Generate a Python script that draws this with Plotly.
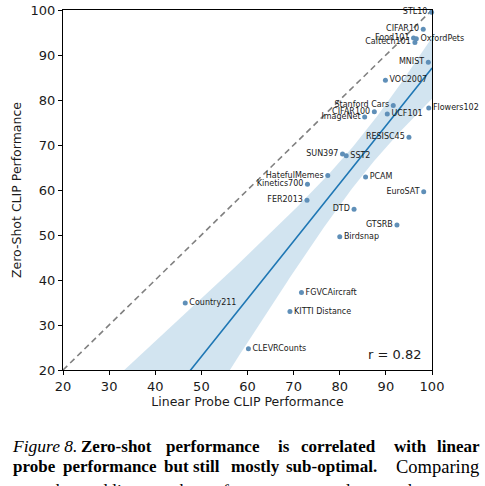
import numpy as np
import plotly.graph_objects as go

datasets = ["STL10", "CIFAR10", "Food101", "OxfordPets", "Caltech101", "MNIST", "VOC2007",
            "Stanford Cars", "CIFAR100", "ImageNet", "UCF101", "Flowers102", "RESISC45",
            "SUN397", "SST2", "HatefulMemes", "Kinetics700", "FER2013", "PCAM", "EuroSAT",
            "DTD", "GTSRB", "Birdsnap", "FGVCAircraft", "KITTI Distance", "Country211", "CLEVRCounts"]
linear_probe = [99.9, 98.1, 96.0, 96.6, 96.3, 99.2, 89.9,
                91.6, 87.5, 85.4, 90.3, 99.3, 95.0,
                80.6, 81.4, 77.4, 73.0, 72.9, 85.6, 98.2,
                83.1, 92.4, 80.0, 71.7, 69.2, 46.5, 60.2]
zero_shot = [99.5, 95.7, 93.8, 93.6, 92.8, 88.4, 84.4,
             78.8, 77.4, 76.2, 76.9, 78.2, 71.7,
             68.0, 67.6, 63.2, 61.3, 57.7, 62.9, 59.6,
             55.7, 52.2, 49.6, 37.2, 33.0, 34.9, 24.7]
label_side = ["left", "left", "left", "right", "left", "left", "right",
              "left", "left", "left", "right", "right", "left",
              "left", "right", "left", "left", "left", "right", "left",
              "left", "left", "right", "right", "right", "right", "right"]
x_ticks = [20, 30, 40, 50, 60, 70, 80, 90, 100]
y_ticks = [20, 30, 40, 50, 60, 70, 80, 90, 100]
r_text = "r = 0.82"

x = np.array(linear_probe)
y = np.array(zero_shot)
n = len(x)
slope, intercept = np.polyfit(x, y, 1)
xs = np.linspace(20, 100, 200)
yhat = slope * xs + intercept
resid = y - (slope * x + intercept)
s = np.sqrt(np.sum(resid ** 2) / (n - 2))
sxx = np.sum((x - x.mean()) ** 2)
tval = 1.95
half = tval * s * np.sqrt(1.0 / n + (xs - x.mean()) ** 2 / sxx)

FONT = "DejaVu Sans"
fig = go.Figure()
fig.add_trace(go.Scatter(x=np.concatenate([xs, xs[::-1]]),
                         y=np.concatenate([yhat + half, (yhat - half)[::-1]]),
                         fill="toself", fillcolor="rgba(31,119,180,0.2)",
                         line=dict(width=0), mode="lines", hoverinfo="skip", showlegend=False))
fig.add_trace(go.Scatter(x=[20, 100], y=[20, 100], mode="lines",
                         line=dict(color="#808080", width=1.6, dash="6px,4px"), showlegend=False))
fig.add_trace(go.Scatter(x=xs, y=yhat, mode="lines",
                         line=dict(color="#1f77b4", width=1.6), showlegend=False))
for side in ["left", "right"]:
    idx = [i for i, sd in enumerate(label_side) if sd == side]
    fig.add_trace(go.Scatter(
        x=[linear_probe[i] for i in idx], y=[zero_shot[i] for i in idx],
        text=[datasets[i] for i in idx], mode="markers+text",
        textposition="middle " + side,
        textfont=dict(family=FONT, size=8, color="#1a1a1a"),
        marker=dict(size=5, color="#5f8fb8"), cliponaxis=False, showlegend=False))

axis_common = dict(range=[20, 100], showgrid=False, zeroline=False, showline=True,
                   linecolor="black", linewidth=1, mirror=True, ticks="outside",
                   ticklen=4, tickcolor="black", automargin=False,
                   tickfont=dict(family=FONT, size=13, color="#1a1a1a"))
fig.update_xaxes(**axis_common, tickvals=x_ticks,
                 title=dict(text="Linear Probe CLIP Performance",
                            font=dict(family=FONT, size=12.5, color="#1a1a1a"), standoff=4))
fig.update_yaxes(**axis_common, tickvals=y_ticks,
                 title=dict(text="Zero-Shot CLIP Performance",
                            font=dict(family=FONT, size=12.5, color="#1a1a1a"), standoff=6))

fig.add_annotation(x=98, y=23.5, xref="x", yref="y", text=r_text, showarrow=False,
                   xanchor="right", yanchor="middle",
                   font=dict(family=FONT, size=13, color="#1a1a1a"))

# caption
L, R, T, B = 62.5, 432.3, 10.3, 370.0
def px2paper(px, py):
    return (px - L) / (R - L), (B - py) / (B - T)

caption_words = [
    [("<i>Figure 8.</i>", 9, 17.5), ("<b>Zero-shot</b>", 79, 17), ("<b>performance</b>", 164, 17),
     ("<b>is</b>", 276, 17), ("<b>correlated</b>", 299, 17), ("<b>with</b>", 392, 17),
     ("<b>linear</b>", 435, 17)],
    [("<b>probe</b>", 10, 17), ("<b>performance</b>", 60, 17), ("<b>but</b>", 162, 17),
     ("<b>still</b>", 191, 17), ("<b>mostly</b>", 229, 17), ("<b>sub-optimal.</b>", 284, 17),
     ("Comparing", 394, 18.5)],
    [("zero-shot and linear probe performance across datasets shows", 10, 17.5)],
]
line_centers = [446, 466.5, 490]
for words, cy in zip(caption_words, line_centers):
    for w, px, fs in words:
        xp, yp = px2paper(px, cy)
        fig.add_annotation(x=xp, y=yp, xref="paper", yref="paper", text=w, showarrow=False,
                           xanchor="left", yanchor="middle",
                           font=dict(family="Liberation Serif", size=fs, color="black"))

fig.update_layout(width=485, height=486, plot_bgcolor="white", paper_bgcolor="white",
                  margin=dict(l=62.5, r=485 - 432.3, t=10.3, b=486 - 370, autoexpand=False),
                  showlegend=False)
fig.write_html("out.html", config={"displayModeBar": False},
               post_script="document.body.style.margin='0';document.body.style.overflow='hidden';")
